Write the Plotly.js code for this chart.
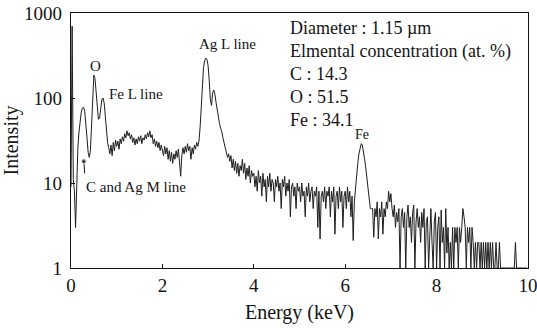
<!DOCTYPE html>
<html>
<head>
<meta charset="utf-8">
<script src="https://cdn.plot.ly/plotly-3.0.1.min.js"></script>
<style>html,body{margin:0;padding:0;background:#fff;}#chart{width:537px;height:329px;}</style>
</head>
<body>
<div id="chart"></div>
<script>
// EDS spectrum, channel width 0.025 keV, first channel at 0 keV
const channelWidth = 0.025;

const counts0to2 = [
  9, 700, 11, 8, 3, 12, 26, 40, 55, 68, 76, 78, 70, 52, 34, 23, 20, 24, 45, 110,
  186, 170, 120, 78, 56, 58, 75, 95, 100, 88, 62, 40, 30, 26, 22, 28, 21, 30, 24, 32,
  27, 31, 25, 33, 29, 35, 31, 38, 34, 41, 36, 39, 33, 37, 30, 34, 28, 33, 29, 35,
  31, 36, 29, 34, 32, 37, 33, 39, 35, 41, 34, 37, 29, 33, 27, 31, 26, 30, 24, 28
];
const counts2to4 = [
  25, 21, 27, 22, 26, 19, 24, 18, 23, 17, 22, 19, 24, 20, 25, 18, 12, 21, 26, 22,
  27, 23, 29, 24, 27, 19, 26, 22, 28, 25, 30, 27, 31, 45, 90, 160, 230, 275, 295, 285,
  240, 160, 95, 82, 115, 124, 110, 88, 70, 58, 50, 44, 40, 34, 30, 27, 24, 20, 22, 18,
  21, 15, 19, 14, 18, 13, 17, 12, 16, 14, 19, 13, 17, 11, 15, 12, 16, 10, 14, 12
];
const counts4to6 = [
  13, 9, 12, 8, 14, 10, 12, 7, 13, 9, 11, 6, 12, 9, 13, 8, 11, 10, 6, 11,
  9, 12, 8, 10, 5, 11, 9, 12, 7, 10, 8, 11, 4, 9, 10, 7, 9, 5, 10, 8,
  9, 6, 10, 7, 8, 4, 9, 7, 10, 6, 8, 9, 5, 8, 7, 9, 3, 8, 2.2, 7,
  8, 6, 9, 5, 8, 7, 9, 4, 8, 6, 9, 2.5, 7, 8, 5, 9, 6, 8, 3, 7
];
const counts6to8 = [
  8, 5, 9, 6, 8, 4, 7, 2.1, 6, 9, 13, 17, 22, 26, 29, 28, 24, 19, 15, 11,
  8, 6, 5, 5, 5, 2.3, 5, 4, 6, 2.2, 5, 4, 6, 2.5, 5, 4, 6, 5, 8, 6,
  7.5, 5, 4, 5.5, 3, 4.5, 3.5, 5, 1, 4, 5, 3, 4.5, 1, 4, 5.5, 3, 4, 2, 4.5,
  5.5, 1, 3.5, 5, 3, 4, 2, 4.5, 3, 5, 1, 3.5, 4, 1, 3, 5, 2, 1, 3.5, 4.5
];
const counts8to10 = [
  1, 3, 4, 1, 4.8, 2, 3, 1, 5, 1.5, 3, 1, 2, 1, 3, 1, 3, 2, 3, 1,
  3, 2, 3, 5, 4, 3, 1, 3, 2, 3, 1, 3, 2, 1, 2, 1, 2, 2, 1, 2,
  1, 2, 1, 2, 1, 2, 1, 2, 1, 2, 1, 1, 2, 1, 1, 2, 1, 1, 1, 1,
  1, 1, 1, 1, 1, 1, 1, 1, 1, 2, 1, 1, 1, 1, 1, 1, 1, 1, 1, 1
];

const yTickVals = [1, 10, 100, 1000];
const yTickText = ["1", "10", "100", "1000"];
const xTickVals = [0, 2, 4, 6, 8, 10];
const xTickText = ["0", "2", "4", "6", "8", "10"];

const infoLines = [
  "Diameter : 1.15 \u00b5m",
  "Elmental concentration (at. %)",
  "C : 14.3",
  "O : 51.5",
  "Fe : 34.1"
];

const counts = [].concat(counts0to2, counts2to4, counts4to6, counts6to8, counts8to10);
const energy = counts.map((_, i) => +(i * channelWidth).toFixed(3));

const serif = "'Liberation Serif', 'DejaVu Serif', 'Times New Roman', Times, serif";
const ink = "#141414";

const trace = {
  x: energy, y: counts, type: "scatter", mode: "lines",
  line: {color: "#1e1e1e", width: 1},
  hoverinfo: "skip"
};
const pin = {
  x: [0.28, 0.30], y: [18, 13], type: "scatter", mode: "lines+markers",
  line: {color: ink, width: 1},
  marker: {size: [5, 0], color: ink},
  hoverinfo: "skip"
};

const annotations = [];
const rowY = [28, 51, 74, 97, 120];
infoLines.forEach((t, i) => {
  annotations.push({
    xref: "paper", yref: "paper", x: (288 - 71) / 457, y: 1 - (rowY[i] - 13) / 255,
    xanchor: "left", yanchor: "middle", showarrow: false, text: t,
    font: {family: serif, size: 18, color: ink}
  });
});
const peakLabels = [
  {text: "O", x: 95, y: 66, anchor: "center", size: 15},
  {text: "Fe L line", x: 107, y: 94, anchor: "left", size: 15},
  {text: "Ag L line", x: 227, y: 44, anchor: "center", size: 15},
  {text: "Fe", x: 362, y: 134, anchor: "center", size: 14},
  {text: "C and Ag M line", x: 84, y: 187, anchor: "left", size: 15}
];
peakLabels.forEach(p => {
  annotations.push({
    xref: "paper", yref: "paper", x: (p.x - 71) / 457, y: 1 - (p.y - 13) / 255,
    xanchor: p.anchor, yanchor: "middle", showarrow: false, text: p.text,
    font: {family: serif, size: p.size, color: ink}
  });
});

const layout = {
  width: 537, height: 329,
  margin: {l: 71, r: 9, t: 13, b: 61},
  paper_bgcolor: "#fff", plot_bgcolor: "#fff",
  showlegend: false,
  font: {family: serif, color: ink},
  xaxis: {
    range: [0, 10], tickmode: "array", tickvals: xTickVals, ticktext: xTickText,
    ticks: "inside", ticklen: 4, tickwidth: 1, ticklabeloverflow: "allow",
    tickcolor: ink, showline: true, linecolor: ink, linewidth: 1.3, mirror: true,
    showgrid: false, zeroline: false, ticklabelstandoff: 0,
    tickfont: {family: serif, size: 19, color: ink},
    title: {text: "Energy (keV)", font: {family: serif, size: 20, color: ink}, standoff: 10}
  },
  yaxis: {
    type: "log", range: [0, 3], tickvals: yTickVals, ticktext: yTickText,
    ticks: "inside", ticklen: 4, tickwidth: 1, tickcolor: ink,
    showline: true, linecolor: ink, linewidth: 1.3, mirror: true,
    showgrid: false, zeroline: false, ticklabelstandoff: 4,
    tickfont: {family: serif, size: 19, color: ink},
    title: {text: "Intensity", font: {family: serif, size: 20, color: ink}, standoff: 8}
  },
  annotations: annotations
};

Plotly.newPlot("chart", [trace, pin], layout, {staticPlot: true, displayModeBar: false});
</script>
</body>
</html>
